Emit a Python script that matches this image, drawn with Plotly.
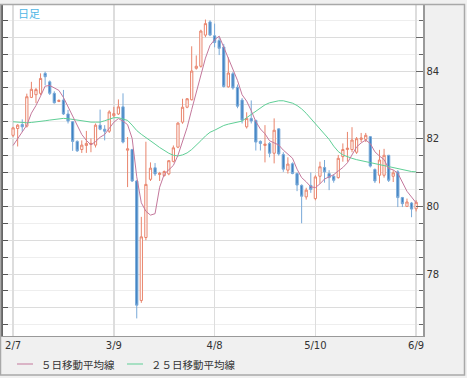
import pandas as pd
import plotly.graph_objects as go

# ---- data ----
dates = pd.bdate_range("2011-02-07", "2011-06-09")  # trading days shown

opens = [82.10, 82.30, 82.42, 82.37, 83.22, 83.30, 83.34, 83.93, 83.68, 83.34,
         83.10, 83.14, 82.73, 82.50, 81.92, 81.68, 81.80, 81.83, 81.81, 82.40,
         82.28, 82.22, 82.68, 82.73, 82.94, 81.66, 81.68, 80.75, 77.22, 79.08,
         80.80, 81.14, 80.94, 80.91, 80.96, 81.33, 81.75, 82.49, 82.93, 83.15,
         84.08, 84.14, 85.06, 85.45, 85.04, 84.90, 84.71, 83.53, 83.92, 83.52,
         83.14, 82.35, 82.60, 82.54, 81.92, 81.80, 81.86, 81.57, 82.29, 81.53,
         81.07, 81.26, 80.97, 80.62, 80.28, 80.62, 80.23, 80.89, 81.15, 80.97,
         80.89, 80.85, 81.47, 81.68, 81.68, 81.60, 81.98, 81.98, 82.06, 81.09,
         80.92, 80.92, 81.51, 80.89, 81.02, 80.26, 80.00, 80.10, 79.93]
highs = [82.35, 82.43, 82.57, 83.33, 83.68, 83.50, 83.93, 83.98, 83.72, 83.40,
         83.16, 83.44, 82.85, 82.52, 81.95, 81.95, 82.23, 82.01, 82.45, 82.86,
         82.40, 82.84, 82.94, 83.16, 83.34, 82.05, 81.70, 80.78, 79.69, 81.91,
         81.30, 81.28, 81.02, 81.06, 81.37, 81.80, 82.49, 83.18, 83.20, 84.73,
         84.46, 85.22, 85.52, 85.50, 85.40, 85.00, 84.80, 84.40, 83.97, 83.60,
         83.20, 82.78, 83.13, 82.56, 81.95, 82.40, 81.90, 82.60, 82.30, 81.60,
         81.45, 81.30, 81.00, 80.65, 80.55, 81.00, 80.92, 81.32, 81.37, 81.07,
         80.95, 81.52, 81.86, 82.20, 82.34, 82.05, 82.17, 82.17, 82.08, 81.12,
         81.67, 81.70, 81.52, 81.07, 81.07, 80.28, 80.23, 80.13, 80.18]
lows = [82.05, 81.77, 82.20, 82.33, 83.20, 83.05, 83.29, 83.58, 83.29, 83.04,
        83.08, 82.70, 82.45, 81.64, 81.61, 81.58, 81.58, 81.60, 81.74, 82.25,
        81.95, 82.17, 82.64, 82.70, 81.86, 80.57, 80.72, 76.69, 77.15, 79.00,
        80.75, 80.90, 80.75, 80.88, 80.92, 81.30, 81.72, 82.44, 82.90, 83.13,
        84.04, 84.10, 85.00, 85.03, 84.70, 84.47, 83.51, 83.51, 83.45, 82.90,
        82.45, 82.30, 82.45, 81.65, 81.65, 81.30, 81.45, 81.27, 81.50, 81.02,
        80.97, 80.95, 80.45, 79.50, 80.20, 80.40, 80.18, 80.67, 80.70, 80.48,
        80.70, 80.82, 81.32, 81.32, 81.60, 81.55, 81.90, 81.90, 81.15, 80.69,
        80.68, 80.85, 80.72, 80.72, 79.98, 79.98, 79.98, 79.68, 79.85]
closes = [82.32, 82.40, 82.35, 83.24, 83.46, 83.45, 83.78, 83.83, 83.34, 83.06,
          83.13, 82.73, 82.52, 81.92, 81.64, 81.81, 81.86, 81.86, 82.40, 82.28,
          82.22, 82.79, 82.74, 82.94, 81.90, 81.70, 80.75, 77.08, 79.10, 80.65,
          81.13, 80.96, 80.98, 81.03, 81.35, 81.73, 82.46, 82.93, 83.18, 84.00,
          84.14, 85.18, 85.40, 85.06, 84.84, 84.67, 83.54, 83.94, 83.50, 82.96,
          82.55, 82.60, 82.52, 81.90, 81.86, 81.84, 81.57, 82.25, 81.55, 81.10,
          81.25, 80.97, 80.63, 80.30, 80.48, 80.50, 80.87, 81.17, 81.02, 80.85,
          80.77, 81.42, 81.68, 81.72, 81.96, 82.00, 82.02, 82.10, 81.19, 80.75,
          81.37, 81.51, 80.77, 80.99, 80.26, 80.08, 80.13, 79.92, 80.12]

# 5-day MA: first four points (need earlier data)
ma5_head = [81.80, 82.00, 82.20, 82.40]
# 25-day MA
ma25 = [82.50, 82.49, 82.47, 82.47, 82.48, 82.49, 82.50, 82.53, 82.55, 82.57,
        82.59, 82.60, 82.59, 82.57, 82.54, 82.52, 82.50, 82.49, 82.49, 82.49,
        82.53, 82.58, 82.62, 82.62, 82.59, 82.54, 82.40, 82.24, 82.13, 82.04,
        81.94, 81.84, 81.74, 81.65, 81.57, 81.51, 81.49, 81.52, 81.58, 81.68,
        81.80, 81.94, 82.08, 82.19, 82.25, 82.33, 82.39, 82.43, 82.46, 82.48,
        82.52, 82.62, 82.72, 82.82, 82.92, 83.00, 83.06, 83.10, 83.12, 83.12,
        83.09, 83.05, 82.98, 82.88, 82.75, 82.60, 82.45, 82.30, 82.15, 81.98,
        81.78, 81.62, 81.52, 81.46, 81.42, 81.38, 81.35, 81.32, 81.30, 81.27,
        81.24, 81.21, 81.17, 81.13, 81.10, 81.07, 81.05, 81.03, 81.02]

tick_dates = ["2011-02-07", "2011-03-09", "2011-04-08", "2011-05-10", "2011-06-09"]
tick_labels = ["2/7", "3/9", "4/8", "5/10", "6/9"]
y_tickvals = [77, 78, 79, 80, 81, 82, 83, 84, 85]
y_ticktext = ["", "78", "", "80", "", "82", "", "84", ""]

legend_names = ["５日移動平均線", "２５日移動平均線"]
title_text = "日足"

# ---- derived ----
x = list(range(len(dates)))
tickvals = [int(dates.get_loc(pd.Timestamp(d))) for d in tick_dates]
ma5_calc = pd.Series(closes).rolling(5).mean().tolist()
ma5 = ma5_head + ma5_calc[4:]

UP = "#e9846c"
DOWN_FILL = "#3f82c2"
DOWN_LINE = "#79a9d8"
PINK = "#c4789c"
GREEN = "#5fcf96"

fig = go.Figure()
fig.add_trace(go.Candlestick(
    x=x, open=opens, high=highs, low=lows, close=closes,
    increasing=dict(line=dict(color=UP, width=1), fillcolor="white"),
    decreasing=dict(line=dict(color=DOWN_LINE, width=1), fillcolor=DOWN_FILL),
    whiskerwidth=0, showlegend=False, hoverinfo="skip"))
fig.add_trace(go.Scatter(x=x, y=ma25, mode="lines", line=dict(color=GREEN, width=1),
                         showlegend=False, hoverinfo="skip"))
fig.add_trace(go.Scatter(x=x, y=ma5, mode="lines", line=dict(color=PINK, width=1),
                         showlegend=False, hoverinfo="skip"))
fig.add_trace(go.Scatter(x=[None], y=[None], yaxis="y2", showlegend=False, hoverinfo="skip"))

yr = [76.17, 85.95]
L, R, T, B = 3, 44, 5, 42
W, H = 467, 378
pw, ph = W - L - R, H - T - B

def px(xp):
    return (xp - L) / pw

def py(yp):
    return (H - B - yp) / ph

fig.update_layout(
    width=W, height=H,
    margin=dict(l=L, r=R, t=T, b=B, pad=0),
    paper_bgcolor="#f0f0f0", plot_bgcolor="white",
    font=dict(family="DejaVu Sans", size=10, color="#333333"),
    xaxis=dict(range=[-2.2, 89.5], tickmode="array", tickvals=tickvals, ticktext=tick_labels,
               showgrid=True, gridcolor="#dddddd", gridwidth=1.5, ticks="",
               showline=True, linecolor="#999999", linewidth=1, zeroline=False,
               rangeslider=dict(visible=False), fixedrange=True,
               tickfont=dict(size=10, color="#333333")),
    yaxis=dict(range=yr, side="right", tickmode="array", tickvals=y_tickvals, ticktext=y_ticktext,
               ticks="inside", ticklen=7, tickcolor="#666666", tickwidth=1,
               showgrid=True, gridcolor="#dcdcdc", gridwidth=1,
               minor=dict(tickmode="linear", tick0=76, dtick=0.5, ticks="inside", ticklen=4,
                          tickcolor="#666666", showgrid=True, gridcolor="#eeeeee"),
               showline=True, linecolor="#999999", linewidth=1.5, zeroline=False,
               fixedrange=True, tickfont=dict(size=10, color="#333333")),
    yaxis2=dict(range=yr, overlaying="y", side="left", tickmode="linear", tick0=76, dtick=0.5,
                ticks="inside", ticklen=5, tickcolor="#555555", showticklabels=False,
                showgrid=False, showline=True, linecolor="#666666", linewidth=2, zeroline=False,
                fixedrange=True),
    showlegend=False,
)

shapes = [
    dict(type="rect", xref="paper", yref="paper", x0=px(0.5), x1=px(464.5), y0=py(375), y1=py(4.5),
         line=dict(color="#a8a8a8", width=1.5), fillcolor="rgba(0,0,0,0)", layer="above"),
    dict(type="line", xref="paper", yref="paper", x0=px(17), x1=px(33), y0=py(364), y1=py(364),
         line=dict(color=PINK, width=1)),
    dict(type="line", xref="paper", yref="paper", x0=px(127), x1=px(143), y0=py(364), y1=py(364),
         line=dict(color=GREEN, width=1)),
]
fig.update_layout(shapes=shapes)

ann = [
    dict(text=title_text, x=px(16), y=py(13), xref="paper", yref="paper", xanchor="left",
         yanchor="middle", showarrow=False,
         font=dict(family="Noto Sans CJK JP", size=11, color="#4fb6e6")),
    dict(text=legend_names[0], x=px(39), y=py(364), xref="paper", yref="paper", xanchor="left",
         yanchor="middle", showarrow=False,
         font=dict(family="Noto Sans CJK JP", size=10.5, color="#333333")),
    dict(text=legend_names[1], x=px(149), y=py(364), xref="paper", yref="paper", xanchor="left",
         yanchor="middle", showarrow=False,
         font=dict(family="Noto Sans CJK JP", size=10.5, color="#333333")),
]
fig.update_layout(annotations=ann)

fig.write_html("out.html", config={"displayModeBar": False, "staticPlot": True},
               post_script="document.body.style.margin='0';document.body.style.overflow='hidden';")
